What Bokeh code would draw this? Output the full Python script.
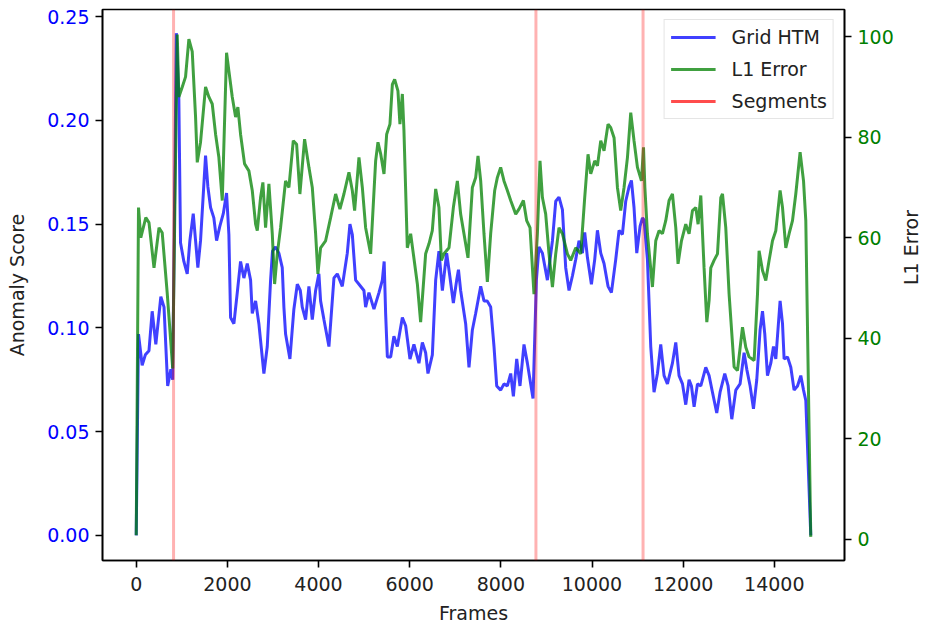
import math
from bokeh.plotting import figure
from bokeh.models import (Range1d, LinearAxis, Span, Legend, LegendItem,
                          FixedTicker, NumeralTickFormatter)
from bokeh.embed import file_html
from bokeh.resources import INLINE

# ---------------- data ----------------
frames_htm = [0, 50, 130, 200, 280, 350, 430, 540, 610, 690, 760, 800, 880, 935, 972,
              1045, 1119, 1177, 1251, 1302, 1352, 1411, 1521, 1572, 1631, 1703, 1763,
              1835, 1910, 1982, 2033, 2070, 2143, 2217, 2289, 2362, 2436, 2509, 2546,
              2619, 2691, 2801, 2875, 2948, 2990, 3058, 3130, 3204, 3240, 3277, 3372,
              3459, 3534, 3600, 3643, 3716, 3789, 3863, 3936, 4008, 4045, 4118, 4228,
              4338, 4412, 4521, 4631, 4689, 4741, 4814, 4887, 4996, 5033, 5106, 5216,
              5326, 5400, 5440, 5472, 5510, 5582, 5654, 5729, 5839, 5911, 6006, 6093,
              6203, 6278, 6350, 6401, 6497, 6570, 6642, 6717, 6811, 6880, 6958, 7031,
              7070, 7118, 7228, 7301, 7375, 7448, 7558, 7630, 7700, 7777, 7850, 7909,
              7996, 8069, 8143, 8216, 8275, 8348, 8420, 8508, 8582, 8640, 8706, 8780,
              8837, 8912, 9021, 9132, 9204, 9276, 9351, 9423, 9496, 9570, 9643, 9715,
              9790, 9840, 9899, 9987, 10060, 10119, 10192, 10264, 10352, 10426, 10521,
              10594, 10667, 10740, 10813, 10865, 10922, 10982, 11055, 11107, 11142,
              11216, 11289, 11361, 11436, 11508, 11581, 11655, 11765, 11838, 11910,
              11985, 12057, 12130, 12182, 12240, 12314, 12387, 12496, 12569, 12643,
              12737, 12810, 12913, 12986, 13067, 13155, 13249, 13337, 13396, 13469,
              13543, 13615, 13688, 13741, 13791, 13850, 13923, 13982, 14033, 14127,
              14180, 14215, 14289, 14362, 14434, 14509, 14581, 14641, 14691, 14800]
anomaly_score = [0.0, 0.097, 0.082, 0.087, 0.089, 0.108, 0.092, 0.115, 0.110, 0.072, 0.080,
                 0.075, 0.242, 0.210, 0.141, 0.132, 0.126, 0.142, 0.155, 0.142, 0.129, 0.142,
                 0.183, 0.168, 0.158, 0.153, 0.142, 0.149, 0.155, 0.165, 0.145, 0.105, 0.102,
                 0.117, 0.132, 0.124, 0.131, 0.123, 0.107, 0.113, 0.102, 0.078, 0.091, 0.123,
                 0.137, 0.139, 0.136, 0.129, 0.110, 0.097, 0.085, 0.109, 0.121, 0.118, 0.110,
                 0.104, 0.120, 0.104, 0.118, 0.126, 0.113, 0.104, 0.091, 0.124, 0.126, 0.120,
                 0.136, 0.150, 0.145, 0.123, 0.121, 0.118, 0.110, 0.117, 0.109, 0.117, 0.123,
                 0.132, 0.107, 0.086, 0.086, 0.096, 0.091, 0.105, 0.101, 0.085, 0.092, 0.083,
                 0.093, 0.088, 0.078, 0.087, 0.123, 0.137, 0.118, 0.136, 0.125, 0.112, 0.123,
                 0.128, 0.118, 0.102, 0.081, 0.099, 0.107, 0.120, 0.113, 0.113, 0.110, 0.091,
                 0.072, 0.070, 0.073, 0.072, 0.078, 0.067, 0.085, 0.072, 0.092, 0.083, 0.075,
                 0.066, 0.123, 0.139, 0.136, 0.123, 0.142, 0.161, 0.163, 0.157, 0.129, 0.118,
                 0.125, 0.133, 0.142, 0.136, 0.146, 0.134, 0.121, 0.133, 0.147, 0.136, 0.131,
                 0.120, 0.117, 0.133, 0.147, 0.145, 0.161, 0.168, 0.171, 0.158, 0.136, 0.149,
                 0.153, 0.152, 0.133, 0.091, 0.069, 0.078, 0.092, 0.077, 0.073, 0.083, 0.093,
                 0.077, 0.073, 0.063, 0.075, 0.072, 0.062, 0.073, 0.072, 0.081, 0.077, 0.069,
                 0.059, 0.069, 0.078, 0.072, 0.056, 0.070, 0.073, 0.088, 0.080, 0.072, 0.061,
                 0.075, 0.099, 0.108, 0.097, 0.077, 0.083, 0.091, 0.085, 0.113, 0.102, 0.085,
                 0.086, 0.081, 0.070, 0.072, 0.077, 0.070, 0.065, 0.0]

frames_l1 = [0, 50, 100, 210, 280, 390, 500, 570, 680, 800, 900, 935, 1010, 1082, 1155,
             1229, 1302, 1339, 1411, 1521, 1594, 1668, 1741, 1813, 1888, 1982, 2033, 2107,
             2180, 2230, 2289, 2377, 2472, 2546, 2619, 2656, 2728, 2779, 2838, 2911, 2985,
             3036, 3095, 3167, 3277, 3350, 3446, 3519, 3591, 3694, 3789, 3863, 3936, 3986,
             4045, 4155, 4265, 4375, 4469, 4557, 4667, 4741, 4792, 4887, 4961, 5033, 5143,
             5253, 5304, 5363, 5436, 5495, 5567, 5620, 5670, 5742, 5786, 5839, 5874, 5948,
             6021, 6080, 6168, 6240, 6350, 6423, 6496, 6570, 6642, 6695, 6752, 6862, 6958,
             7046, 7118, 7191, 7279, 7375, 7448, 7499, 7558, 7630, 7704, 7777, 7865, 7924,
             7996, 8069, 8143, 8216, 8326, 8398, 8495, 8567, 8640, 8727, 8802, 8859, 8912,
             8984, 9057, 9132, 9204, 9276, 9351, 9461, 9533, 9643, 9753, 9840, 9913, 9972,
             10060, 10119, 10192, 10264, 10352, 10411, 10484, 10558, 10630, 10703, 10778,
             10850, 10922, 10997, 11085, 11130, 11160, 11216, 11326, 11399, 11471, 11546,
             11618, 11691, 11765, 11838, 11888, 11963, 12057, 12130, 12204, 12277, 12328,
             12387, 12459, 12519, 12569, 12606, 12678, 12753, 12826, 12863, 12935, 13008,
             13118, 13192, 13302, 13374, 13447, 13557, 13631, 13666, 13741, 13813, 13886,
             13960, 14033, 14127, 14180, 14252, 14325, 14399, 14471, 14566, 14641, 14691,
             14800]
l1_error = [0.8, 66, 60, 64, 63, 54, 62, 61, 49, 34, 100.4, 88, 90, 92, 99.5, 97, 84, 75,
            79, 90, 88, 86.6, 80.6, 76, 67.4, 96.8, 93.2, 88, 84, 86, 80.6, 74.7, 73.3,
            69.4, 62.7, 61.4, 68, 71, 62, 70.7, 60.8, 50.8, 56.8, 62, 71.3, 70, 79.3, 78.6,
            68.7, 79.6, 74, 70, 60.8, 52.8, 58, 59.4, 64, 68.7, 65.7, 68.7, 73, 69.4, 65.4,
            76, 70, 62, 56.8, 75.3, 79, 76.7, 72.7, 80.6, 82.6, 90.5, 91.5, 89.2, 82.6,
            88.6, 81.3, 58, 60.8, 56.8, 50.8, 43.2, 56.8, 58.8, 61.4, 69.7, 66, 55.5, 56.8,
            58, 66, 71.3, 64.7, 60.8, 56, 70, 72, 76.3, 71.3, 60.8, 51.2, 60.8, 69.4, 72,
            74, 71.3, 69.4, 67.4, 64.7, 65.7, 67.4, 63.4, 62, 48.8, 60.8, 75.3, 68, 64.7,
            56.8, 50.2, 56.8, 62, 60.8, 56.8, 55.5, 58, 56.8, 68, 76.6, 72.7, 75.3, 74.3,
            79.3, 77.3, 82.6, 81.9, 79.9, 70, 65.4, 70, 76, 84.9, 79.3, 74, 71.3, 78, 70,
            60.8, 50.2, 59.4, 61.4, 60.8, 63.4, 67.4, 68.7, 62, 54.8, 59.4, 62.7, 60.8,
            65.4, 66, 62.7, 68.4, 54, 43.2, 47.5, 54, 55.5, 56.8, 68, 68.7, 62, 48.8, 34.3,
            33.6, 42.2, 38.2, 36.3, 35.6, 48.8, 57.4, 53.5, 51.5, 55.5, 59.4, 61.4, 69.4,
            66, 58, 60.8, 63.4, 68.7, 77, 71.3, 63.4, 0.5]

segments = [819, 8770, 11120]

x_ticks = [0, 2000, 4000, 6000, 8000, 10000, 12000, 14000]
score_ticks = [0.0, 0.05, 0.10, 0.15, 0.20, 0.25]
l1_ticks = [0, 20, 40, 60, 80, 100]

FONT = "DejaVu Sans"
FS = "19px"

# ---------------- figure ----------------
p = figure(frame_width=742, frame_height=551,
           min_border_left=102, min_border_right=75, min_border_top=9, min_border_bottom=60,
           x_range=Range1d(-740, 15540), y_range=Range1d(-0.0121, 0.2534),
           output_backend="svg", toolbar_location=None)
p.extra_y_ranges = {"l1": Range1d(-4.2, 105.4)}
p.xgrid.visible = False
p.ygrid.visible = False
p.outline_line_color = "black"
p.outline_line_width = 1.6
p.background_fill_color = "white"
p.border_fill_color = "white"

r_blue = p.line(frames_htm, anomaly_score, line_color="blue", line_alpha=0.75, line_width=3)
r_green = p.line(frames_l1, l1_error, y_range_name="l1", line_color="green",
                 line_alpha=0.75, line_width=3)
for s in segments:
    p.add_layout(Span(location=s, dimension="height", line_color="red",
                      line_alpha=0.3, line_width=3))
# legend handle for the segments (NaN values: nothing drawn in the plot area)
r_seg = p.line(x=segments, y=[float("nan")] * len(segments),
               line_color="red", line_alpha=0.7, line_width=3)

right_axis = LinearAxis(y_range_name="l1")
p.add_layout(right_axis, "right")


def style_axis(ax, label, color):
    ax.axis_label = label
    ax.axis_label_text_font = FONT
    ax.axis_label_text_font_size = FS
    ax.axis_label_text_font_style = "normal"
    ax.axis_label_text_color = "#222222"
    ax.major_label_text_font = FONT
    ax.major_label_text_font_size = FS
    ax.major_label_text_color = color
    ax.major_tick_out = 7
    ax.major_tick_in = 0
    ax.major_tick_line_width = 1.6
    ax.minor_tick_line_color = None
    ax.axis_line_width = 1.6
    ax.axis_line_color = "black"
    ax.major_label_standoff = 6


xa = p.xaxis[0]
style_axis(xa, "Frames", "#222222")
xa.ticker = FixedTicker(ticks=x_ticks, minor_ticks=[])
xa.major_label_standoff = 9
xa.axis_label_standoff = 8

ya = p.yaxis[0]
style_axis(ya, "Anomaly Score", "blue")
ya.ticker = FixedTicker(ticks=score_ticks, minor_ticks=[])
ya.formatter = NumeralTickFormatter(format="0.00")
ya.axis_label_standoff = 16

style_axis(right_axis, "L1 Error", "green")
right_axis.ticker = FixedTicker(ticks=l1_ticks, minor_ticks=[])
right_axis.axis_label_standoff = 14
right_axis.axis_label_orientation = math.pi / 2

legend = Legend(items=[LegendItem(label="Grid HTM", renderers=[r_blue]),
                       LegendItem(label="L1 Error", renderers=[r_green]),
                       LegendItem(label="Segments", renderers=[r_seg])],
                location="top_right")
legend.label_text_font = FONT
legend.label_text_font_size = FS
legend.label_text_color = "#222222"
legend.glyph_width = 45
legend.glyph_height = 22
legend.label_height = 22
legend.label_standoff = 16
legend.padding = 6
legend.spacing = 10
legend.margin = 10
legend.border_line_color = "#cccccc"
legend.background_fill_color = "white"
legend.background_fill_alpha = 0.8
p.add_layout(legend)

open("out.html", "w").write(file_html(p, INLINE))
